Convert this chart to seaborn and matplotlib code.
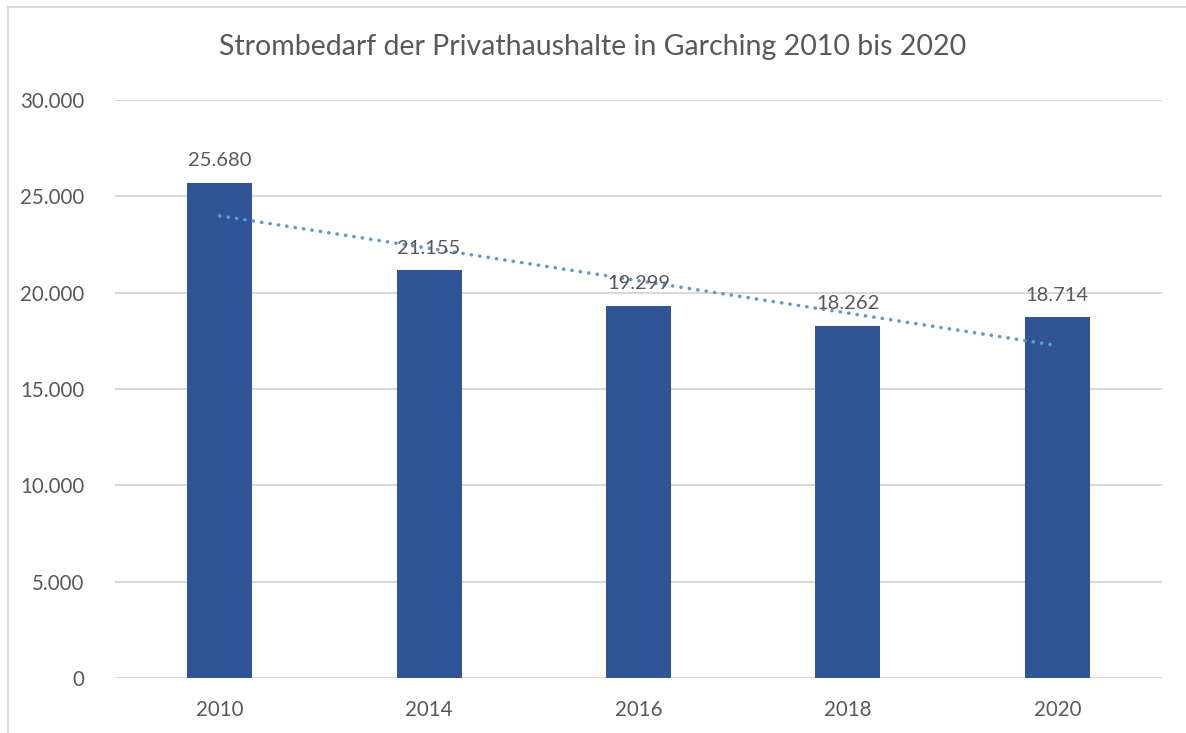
import numpy as np
import matplotlib
matplotlib.use("Agg")
import matplotlib.pyplot as plt
from matplotlib.patches import Rectangle
from matplotlib.ticker import FuncFormatter
import seaborn as sns

# Daten
jahre = ["2010", "2014", "2016", "2018", "2020"]
strombedarf = [25680, 21155, 19299, 18262, 18714]

sns.set_theme(style="white")
plt.rcParams['font.family'] = ['Lato', 'DejaVu Sans']

textfarbe = "#595959"
balkenfarbe = "#2F5597"
trendfarbe = "#5B9BD5"
gitterfarbe = "#D9D9D9"

fig = plt.figure(figsize=(11.86, 7.33), dpi=100)
ax = fig.add_axes([115 / 1186, 1 - 678 / 733, (1162 - 115) / 1186, (678 - 100) / 733])

sns.barplot(x=jahre, y=strombedarf, color=balkenfarbe, width=0.31, ax=ax,
            saturation=1, edgecolor="none")

# lineare Trendlinie (gepunktet)
xpos = np.arange(len(jahre))
m, b = np.polyfit(xpos, strombedarf, 1)
ax.plot(xpos, m * xpos + b, linestyle=(0, (0.05, 2.3)), color=trendfarbe,
        linewidth=2.6, dash_capstyle="round", zorder=4)

# Datenbeschriftungen
for i, wert in enumerate(strombedarf):
    ax.annotate(f"{wert:,}".replace(",", "."), (i, wert), xytext=(0, 10),
                textcoords="offset points", ha="center", va="bottom",
                fontsize=14.5, color=textfarbe, zorder=5)

ax.set_xlim(-0.5, len(jahre) - 0.5)
ax.set_ylim(0, 30000)
ax.set_yticks(range(0, 30001, 5000))
ax.yaxis.set_major_formatter(FuncFormatter(lambda v, p: f"{int(v):,}".replace(",", ".")))
ax.grid(axis="y", color=gitterfarbe, linewidth=1.5)
ax.set_axisbelow(True)
for s in ax.spines.values():
    s.set_visible(False)
ax.tick_params(axis="both", length=0, labelsize=14.8, labelcolor=textfarbe)
ax.tick_params(axis="y", pad=22)
ax.tick_params(axis="x", pad=16)
ax.set_xlabel("")
ax.set_ylabel("")

fig.text(0.5, 1 - 47 / 733, "Strombedarf der Privathaushalte in Garching 2010 bis 2020",
         ha="center", va="center", fontsize=20.5, color=textfarbe)

# Rahmen um das Diagramm
fig.patches.append(Rectangle((8 / 1186, -0.05), 1.2, 1 - 7 / 733 + 0.05,
                             transform=fig.transFigure, fill=False,
                             edgecolor=gitterfarbe, linewidth=1.5))

fig.savefig("out.png", dpi=100)
